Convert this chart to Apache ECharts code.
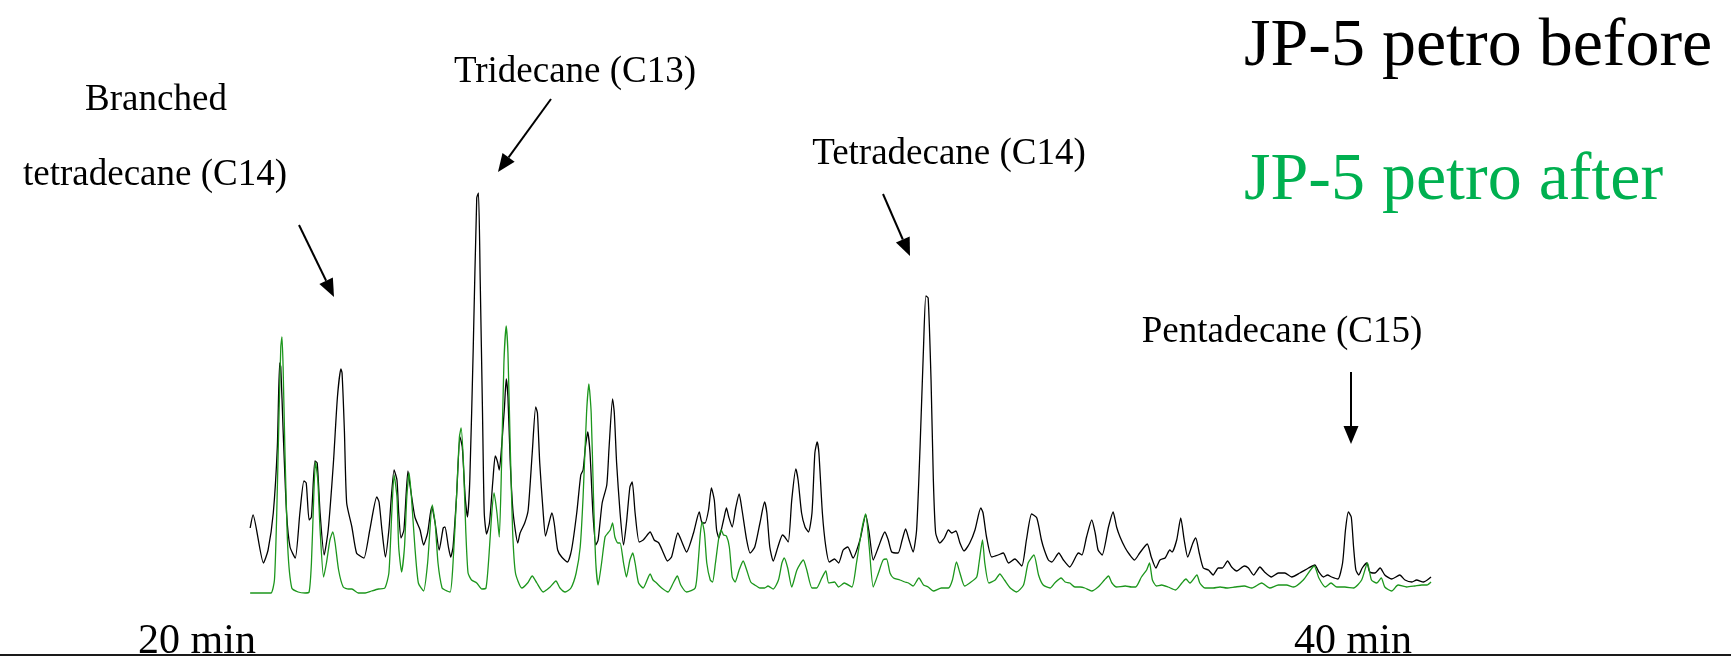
<!DOCTYPE html>
<html>
<head>
<meta charset="utf-8">
<title>JP-5 petro chromatogram</title>
<script src="https://cdn.jsdelivr.net/npm/echarts@6.0.0/dist/echarts.min.js"></script>
<style>
  html, body { margin: 0; padding: 0; background: #fff; }
  #chart { width: 1731px; height: 660px; }
</style>
</head>
<body>
<div id="chart"></div>
<script>
// Retention time (min) and detector signal (arbitrary units), before treatment
const beforeTrace = [
  [20.92,25.4],[20.97,28.0],[21.15,18.4],[21.23,21.0],[21.32,28.4],[21.39,41.6],[21.43,58.4],[21.45,57.6],[21.49,45.0],[21.55,28.4],
  [21.61,21.6],[21.70,19.4],[21.78,28.4],[21.85,34.8],[21.89,34.4],[21.94,27.0],[21.98,27.6],[22.04,38.8],[22.08,38.4],[22.13,28.4],
  [22.20,20.0],[22.27,25.0],[22.36,38.4],[22.43,51.6],[22.49,57.2],[22.51,56.4],[22.55,45.0],[22.59,30.4],[22.68,25.6],[22.76,20.4],
  [22.85,19.6],[22.89,19.4],[22.99,25.0],[23.11,31.6],[23.15,30.6],[23.20,25.0],[23.26,19.6],[23.32,25.0],[23.41,37.0],[23.46,35.0],
  [23.49,28.4],[23.53,23.4],[23.58,25.0],[23.65,36.8],[23.69,33.6],[23.77,27.6],[23.86,25.0],[23.92,22.0],[23.99,24.4],[24.06,29.6],
  [24.12,26.4],[24.19,21.0],[24.26,25.4],[24.29,25.6],[24.35,21.6],[24.39,19.6],[24.43,21.6],[24.49,31.6],[24.55,43.6],[24.59,41.6],
  [24.64,31.6],[24.68,27.6],[24.72,35.0],[24.78,61.6],[24.84,91.4],[24.87,92.4],[24.90,75.0],[24.94,48.4],[24.97,28.4],[25.01,24.2],
  [25.06,26.4],[25.12,35.0],[25.16,39.8],[25.20,38.6],[25.23,37.0],[25.27,41.6],[25.32,49.6],[25.35,55.2],[25.38,51.6],[25.42,38.4],
  [25.47,28.4],[25.55,22.4],[25.59,24.4],[25.67,26.4],[25.73,29.0],[25.80,40.4],[25.86,49.6],[25.89,48.4],[25.93,38.4],[25.99,28.4],
  [26.03,23.8],[26.09,26.4],[26.14,28.4],[26.18,26.4],[26.24,21.0],[26.31,19.6],[26.41,18.6],[26.48,21.0],[26.57,28.4],[26.64,36.0],
  [26.68,37.0],[26.72,41.6],[26.76,44.6],[26.80,40.4],[26.85,28.4],[26.90,22.0],[26.94,23.0],[27.01,30.4],[27.09,34.0],[27.13,41.6],
  [27.19,51.2],[27.22,48.4],[27.26,38.4],[27.32,28.4],[27.38,22.0],[27.43,26.4],[27.49,33.6],[27.53,34.6],[27.58,28.4],[27.65,22.6],
  [27.72,23.0],[27.75,23.4],[27.84,24.6],[27.91,23.0],[27.99,22.4],[28.07,20.4],[28.14,18.8],[28.21,19.6],[28.32,24.4],[28.39,22.6],
  [28.47,20.6],[28.59,24.4],[28.69,28.6],[28.74,26.4],[28.79,26.4],[28.85,29.0],[28.90,33.4],[28.95,31.0],[28.99,25.0],[29.03,23.4],
  [29.11,27.0],[29.16,29.4],[29.20,27.6],[29.26,25.6],[29.32,29.4],[29.38,32.2],[29.43,29.0],[29.51,23.0],[29.57,20.4],[29.65,21.6],
  [29.74,26.4],[29.82,30.6],[29.86,28.4],[29.91,21.6],[29.97,18.8],[30.05,21.6],[30.13,24.0],[30.17,23.6],[30.23,22.6],[30.29,31.0],
  [30.36,37.2],[30.40,35.0],[30.46,28.4],[30.52,25.6],[30.58,24.6],[30.64,28.4],[30.69,40.4],[30.73,42.6],[30.76,40.4],[30.82,28.4],
  [30.88,21.6],[30.94,18.6],[31.03,19.2],[31.10,18.4],[31.18,21.0],[31.26,21.6],[31.35,19.4],[31.47,23.0],[31.57,28.0],[31.63,24.4],
  [31.70,19.0],[31.79,21.6],[31.90,24.6],[31.96,23.0],[32.02,20.6],[32.13,20.4],[32.20,23.0],[32.26,25.2],[32.32,23.0],[32.39,20.6],
  [32.45,25.0],[32.51,41.6],[32.57,61.6],[32.61,71.8],[32.65,71.4],[32.70,55.0],[32.74,35.0],[32.78,24.4],[32.85,22.4],[32.93,23.4],
  [33.00,25.0],[33.06,24.4],[33.13,24.8],[33.20,22.4],[33.27,20.8],[33.37,22.4],[33.46,25.0],[33.56,29.4],[33.60,28.4],[33.66,23.6],
  [33.75,19.6],[33.86,20.0],[33.95,20.4],[34.04,18.4],[34.15,19.2],[34.27,17.8],[34.35,23.0],[34.44,28.2],[34.53,27.4],[34.61,23.0],
  [34.66,21.0],[34.73,19.0],[34.79,18.6],[34.91,20.4],[34.99,19.0],[35.10,17.6],[35.22,20.0],[35.25,20.4],[35.31,20.0],[35.39,23.6],
  [35.48,27.0],[35.54,24.4],[35.59,21.0],[35.66,20.0],[35.77,25.6],[35.85,28.6],[35.91,25.6],[35.97,23.6],[36.06,21.4],[36.14,20.0],
  [36.22,19.0],[36.31,20.4],[36.44,22.2],[36.51,19.6],[36.59,17.4],[36.66,19.0],[36.75,19.4],[36.83,21.0],[36.87,20.6],[36.95,23.0],
  [37.02,27.4],[37.08,23.0],[37.14,19.6],[37.23,22.4],[37.28,23.4],[37.34,20.4],[37.41,17.4],[37.50,17.0],[37.58,16.0],[37.67,17.4],
  [37.74,17.4],[37.83,18.8],[37.90,17.6],[37.99,16.8],[38.12,17.8],[38.19,17.4],[38.28,16.0],[38.39,17.6],[38.47,16.6],[38.59,15.6],
  [38.71,16.4],[38.82,16.4],[38.94,15.6],[39.08,16.4],[39.23,17.4],[39.34,18.0],[39.41,16.6],[39.49,15.6],[39.56,16.0],[39.63,15.6],
  [39.74,15.2],[39.82,18.4],[39.87,25.0],[39.92,28.6],[39.97,27.6],[40.01,21.6],[40.05,17.0],[40.10,16.0],[40.16,17.4],[40.24,18.4],
  [40.29,16.6],[40.38,16.4],[40.47,17.4],[40.55,16.0],[40.67,15.2],[40.81,16.0],[40.90,15.0],[41.02,14.6],[41.10,15.0],[41.22,14.6],
  [41.35,15.6]
];

// Retention time (min) and detector signal (arbitrary units), after treatment
const afterTrace = [
  [20.92,12.4],[21.12,12.4],[21.28,12.4],[21.34,15.0],[21.38,28.4],[21.42,48.4],[21.45,61.6],[21.47,63.6],[21.49,57.6],[21.52,41.6],
  [21.57,21.6],[21.64,13.4],[21.75,12.6],[21.87,12.4],[21.94,12.6],[21.98,18.4],[22.02,31.6],[22.05,38.6],[22.09,35.0],[22.13,25.0],
  [22.19,15.6],[22.24,18.4],[22.30,23.0],[22.35,24.6],[22.39,22.4],[22.45,17.0],[22.53,13.6],[22.62,13.2],[22.68,13.2],[22.79,12.4],
  [22.91,12.4],[23.02,12.8],[23.14,13.2],[23.25,13.4],[23.32,16.4],[23.37,28.4],[23.41,36.0],[23.46,31.6],[23.49,21.6],[23.54,16.6],
  [23.59,21.6],[23.63,31.6],[23.67,36.4],[23.71,31.6],[23.77,21.6],[23.83,14.4],[23.92,12.8],[23.99,18.4],[24.07,30.0],[24.12,26.4],
  [24.17,18.4],[24.24,13.4],[24.29,13.0],[24.38,12.6],[24.43,18.4],[24.49,31.6],[24.54,43.6],[24.57,45.4],[24.61,38.4],[24.65,25.0],
  [24.69,16.4],[24.75,15.0],[24.84,14.4],[24.93,13.2],[25.00,13.4],[25.05,19.6],[25.10,28.4],[25.14,32.4],[25.19,28.4],[25.23,23.6],
  [25.27,38.4],[25.31,58.4],[25.35,65.8],[25.38,60.4],[25.42,41.6],[25.46,25.0],[25.51,16.4],[25.62,13.4],[25.72,14.4],[25.80,15.8],
  [25.88,14.4],[25.99,12.6],[26.11,13.6],[26.21,14.8],[26.28,13.4],[26.37,12.6],[26.47,13.4],[26.56,16.4],[26.63,21.6],[26.68,31.6],
  [26.74,48.4],[26.78,54.2],[26.82,48.4],[26.86,31.6],[26.90,18.4],[26.94,14.0],[27.00,18.4],[27.06,23.6],[27.11,24.4],[27.15,25.0],
  [27.19,26.4],[27.23,23.6],[27.28,22.4],[27.32,22.4],[27.38,18.4],[27.43,15.6],[27.49,19.0],[27.54,20.4],[27.58,18.4],[27.64,14.4],
  [27.72,13.4],[27.84,16.2],[27.89,15.0],[27.95,14.4],[28.04,13.4],[28.15,12.6],[28.24,14.4],[28.31,15.8],[28.37,14.0],[28.47,12.6],
  [28.62,13.4],[28.67,18.4],[28.71,24.4],[28.74,26.6],[28.78,24.4],[28.82,18.4],[28.88,15.0],[28.92,14.6],[28.97,18.4],[29.03,23.6],
  [29.07,25.0],[29.11,24.0],[29.16,23.8],[29.21,21.6],[29.26,15.6],[29.31,14.6],[29.38,17.0],[29.45,18.8],[29.51,17.0],[29.58,14.6],
  [29.65,14.0],[29.74,13.4],[29.82,13.4],[29.88,13.8],[29.97,13.2],[30.06,15.0],[30.12,18.4],[30.16,19.4],[30.22,17.4],[30.29,13.6],
  [30.38,17.0],[30.49,19.0],[30.55,17.0],[30.64,13.4],[30.72,13.4],[30.81,15.4],[30.88,16.8],[30.93,14.4],[31.03,14.6],[31.10,13.6],
  [31.20,14.4],[31.33,13.6],[31.41,18.4],[31.50,25.0],[31.57,28.2],[31.63,21.6],[31.70,13.6],[31.79,16.4],[31.87,19.0],[31.93,19.2],
  [31.99,16.4],[32.05,15.4],[32.16,15.0],[32.25,14.6],[32.31,14.4],[32.39,13.8],[32.49,15.4],[32.57,14.0],[32.65,13.6],[32.74,12.8],
  [32.88,13.4],[33.00,13.4],[33.07,15.0],[33.14,18.6],[33.20,16.4],[33.28,13.8],[33.37,14.4],[33.49,15.6],[33.53,18.4],[33.59,23.0],
  [33.63,18.4],[33.70,14.4],[33.81,15.0],[33.89,16.2],[33.97,15.0],[34.07,13.4],[34.18,12.6],[34.30,14.0],[34.38,18.4],[34.48,20.0],
  [34.56,16.0],[34.64,14.0],[34.76,13.4],[34.84,14.4],[34.95,15.4],[35.02,14.6],[35.10,14.4],[35.19,13.6],[35.28,13.6],[35.36,13.4],
  [35.48,12.8],[35.59,13.6],[35.70,15.0],[35.77,15.8],[35.83,14.4],[35.91,13.6],[36.06,13.8],[36.17,13.6],[36.24,13.6],[36.34,15.6],
  [36.43,17.0],[36.48,18.4],[36.53,15.0],[36.60,13.8],[36.69,14.0],[36.80,13.6],[36.93,13.0],[37.04,14.4],[37.11,15.2],[37.18,14.4],
  [37.30,16.0],[37.35,14.4],[37.44,13.4],[37.58,13.4],[37.70,13.6],[37.82,13.4],[37.96,13.6],[38.12,13.8],[38.25,13.4],[38.42,14.4],
  [38.56,13.4],[38.71,14.0],[38.85,14.0],[38.97,13.6],[39.14,15.0],[39.33,17.8],[39.41,15.4],[39.52,13.6],[39.62,14.4],[39.72,13.6],
  [39.86,13.6],[40.01,13.4],[40.15,15.0],[40.25,18.4],[40.32,15.0],[40.41,14.4],[40.49,15.4],[40.55,13.6],[40.67,12.8],[40.78,14.0],
  [40.93,13.6],[41.07,13.8],[41.19,14.0],[41.28,14.0],[41.35,14.6]
];

// Labelled retention times on the time axis
const timeTicks = [20, 40];

const seriesNames = ['JP-5 petro before', 'JP-5 petro after'];
const peakNames = ['Branched', 'tetradecane (C14)', 'Tridecane (C13)', 'Tetradecane (C14)', 'Pentadecane (C15)'];

const SERIF = '"Liberation Serif", "DejaVu Serif", serif';

function label(text, x, y, size, color, align) {
  return {
    type: 'text',
    silent: true,
    style: {
      text: text, x: x, y: y,
      font: size + 'px ' + SERIF,
      fill: color,
      align: align, textAlign: align,
      verticalAlign: 'middle', textVerticalAlign: 'middle'
    }
  };
}

function arrow(x1, y1, x2, y2) {
  const len = Math.hypot(x2 - x1, y2 - y1);
  const ux = (x2 - x1) / len, uy = (y2 - y1) / len;
  const headLen = 18, halfW = 7.5;
  const bx = x2 - ux * headLen, by = y2 - uy * headLen;
  const px = -uy, py = ux;
  return {
    type: 'group',
    silent: true,
    children: [
      { type: 'line', shape: { x1: x1, y1: y1, x2: bx, y2: by },
        style: { stroke: '#000', lineWidth: 2 } },
      { type: 'polygon',
        shape: { points: [[x2, y2], [bx + px * halfW, by + py * halfW], [bx - px * halfW, by - py * halfW]] },
        style: { fill: '#000' } }
    ]
  };
}

const chart = echarts.init(document.getElementById('chart'), null, { renderer: 'canvas' });

chart.setOption({
  animation: false,
  backgroundColor: '#ffffff',
  grid: { left: 0, right: 0, top: 155, bottom: 5, containLabel: false, outerBoundsMode: 'none' },
  xAxis: {
    type: 'value',
    min: 16.592,
    max: 46.54,
    axisLine: { show: true, lineStyle: { color: '#1a1a1a', width: 2 } },
    axisTick: { show: false },
    splitLine: { show: false },
    axisLabel: {
      inside: true,
      customValues: timeTicks,
      formatter: '{value} min',
      fontFamily: SERIF,
      fontSize: 42,
      color: '#000',
      margin: -8
    }
  },
  yAxis: {
    type: 'value',
    min: 0,
    max: 100,
    show: false,
    splitLine: { show: false }
  },
  series: [
    {
      name: seriesNames[0],
      type: 'line',
      data: beforeTrace,
      showSymbol: false,
      smooth: 0.2,
      lineStyle: { color: '#000000', width: 1.3 },
      z: 2
    },
    {
      name: seriesNames[1],
      type: 'line',
      data: afterTrace,
      showSymbol: false,
      smooth: 0.2,
      lineStyle: { color: '#1c961c', width: 1.3 },
      z: 3
    }
  ],
  graphic: [
    label(seriesNames[0], 1244, 47, 68, '#000000', 'left'),
    label(seriesNames[1], 1244, 181, 68, '#00b050', 'left'),
    label(peakNames[0], 156, 100, 37, '#000000', 'center'),
    label(peakNames[1], 155, 175, 37, '#000000', 'center'),
    label(peakNames[2], 575, 72, 37, '#000000', 'center'),
    label(peakNames[3], 949, 154, 37, '#000000', 'center'),
    label(peakNames[4], 1282, 332, 37, '#000000', 'center'),
    arrow(299, 225, 334, 297),
    arrow(551, 99, 498, 172),
    arrow(883, 194, 910, 256),
    arrow(1351, 372, 1351, 444)
  ]
});
</script>
</body>
</html>
